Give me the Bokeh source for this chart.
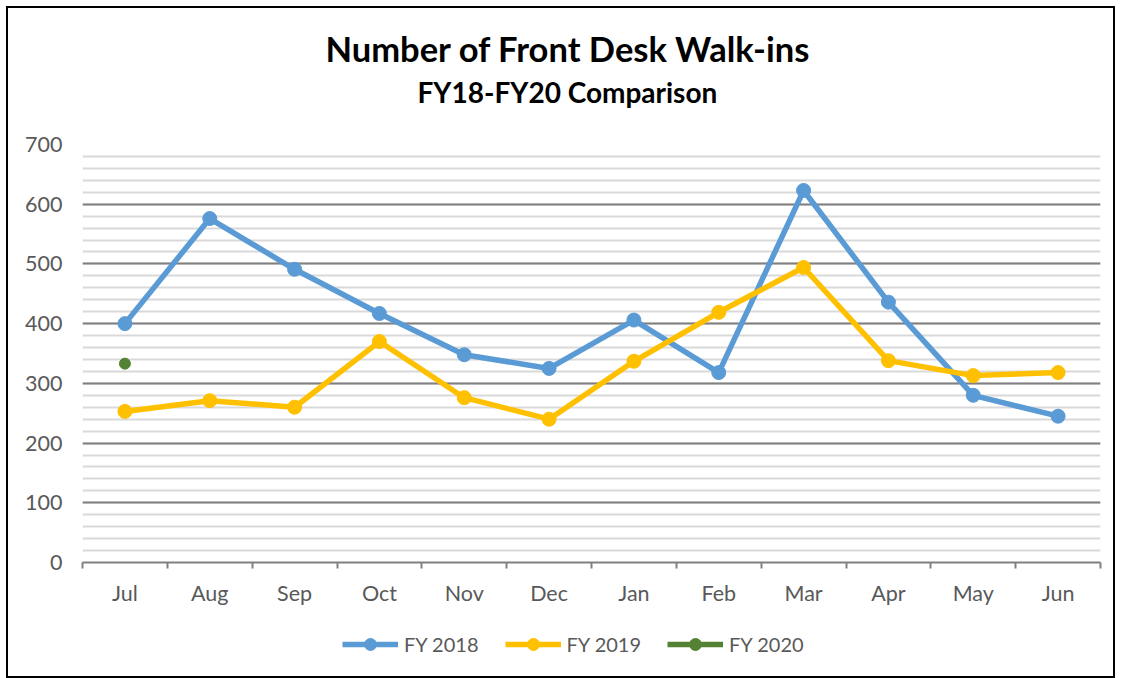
from bokeh.plotting import figure
from bokeh.layouts import column
from bokeh.models import (Title, Legend, LegendItem, FixedTicker, SingleIntervalTicker,
                          Range1d, ColumnDataSource)
from bokeh.embed import file_html
from bokeh.resources import INLINE

months = ["Jul", "Aug", "Sep", "Oct", "Nov", "Dec", "Jan", "Feb", "Mar", "Apr", "May", "Jun"]
fy2018 = [400, 576, 491, 417, 348, 325, 406, 318, 623, 436, 280, 245]
fy2019 = [253, 271, 260, 370, 276, 240, 337, 419, 494, 338, 313, 318]
fy2020 = [333]
series_names = ["FY 2018", "FY 2019", "FY 2020"]

FONT = "Lato"
GRAY_TXT = "#595959"
BLUE = "#5B9BD5"
GOLD = "#FFC000"
GREEN = "#548235"

xpos = [i + 0.5 for i in range(len(months))]

p = figure(width=1105, height=614, output_backend="svg", toolbar_location=None,
           x_range=Range1d(0, len(months)), y_range=Range1d(0, 700),
           min_border_left=74, min_border_right=13, min_border_top=136, min_border_bottom=60)
p.outline_line_color = None
p.background_fill_color = "white"
p.border_fill_color = "white"

# titles (first added is nearest the plot)
spacer = Title(text=" ", text_font_size="1px", standoff=30)
sub = Title(text="FY18-FY20 Comparison", align="left", text_font=FONT,
            text_font_style="bold", text_font_size="28px", text_color="black",
            standoff=6, offset=335)
main = Title(text="Number of Front Desk Walk-ins", align="left", text_font=FONT,
             text_font_style="bold", text_font_size="34.5px", text_color="black",
             standoff=2, offset=243)
p.add_layout(spacer, "above")
p.add_layout(sub, "above")
p.add_layout(main, "above")

# y axis & grid
p.yaxis.ticker = SingleIntervalTicker(interval=100, num_minor_ticks=5)
p.yaxis.axis_line_color = None
p.yaxis.major_tick_line_color = None
p.yaxis.minor_tick_line_color = None
p.yaxis.major_label_text_font = FONT
p.yaxis.major_label_text_font_size = "21.5px"
p.yaxis.major_label_text_color = GRAY_TXT
p.yaxis.major_label_standoff = 14
p.ygrid.grid_line_color = "#808080"
p.ygrid.grid_line_width = 2
p.ygrid.minor_grid_line_color = "#D9D9D9"
p.ygrid.minor_grid_line_width = 2
p.xgrid.grid_line_color = None

# x axis
p.xaxis.ticker = FixedTicker(ticks=xpos, minor_ticks=list(range(len(months) + 1)))
p.xaxis.major_label_overrides = {x: m for x, m in zip(xpos, months)}
p.xaxis.major_tick_line_color = None
p.xaxis.minor_tick_line_color = "#808080"
p.xaxis.minor_tick_line_width = 2
p.xaxis.minor_tick_out = 6
p.xaxis.minor_tick_in = 0
p.xaxis.axis_line_color = "#808080"
p.xaxis.axis_line_width = 2
p.xaxis.major_label_text_font = FONT
p.xaxis.major_label_text_font_size = "21.5px"
p.xaxis.major_label_text_color = GRAY_TXT
p.xaxis.major_label_standoff = 11

s18 = ColumnDataSource(dict(x=xpos, y=fy2018))
s19 = ColumnDataSource(dict(x=xpos, y=fy2019))
s20 = ColumnDataSource(dict(x=xpos[:len(fy2020)], y=fy2020))

p.line("x", "y", source=s18, line_color=BLUE, line_width=5.5)
p.scatter("x", "y", source=s18, size=14, fill_color=BLUE, line_color=BLUE)
p.line("x", "y", source=s19, line_color=GOLD, line_width=5.5)
p.scatter("x", "y", source=s19, size=14, fill_color=GOLD, line_color=GOLD)
p.line("x", "y", source=s20, line_color=GREEN, line_width=5.5)
p.scatter("x", "y", source=s20, size=11, fill_color=GREEN, line_color=GREEN)

# legend strip below the chart (legend-only figure; its proxies hold no drawable data)
lg = figure(width=1105, height=54, output_backend="svg", toolbar_location=None,
            x_axis_location=None, y_axis_location=None,
            x_range=Range1d(0, 1), y_range=Range1d(0, 1),
            min_border_left=0, min_border_right=0, min_border_top=0, min_border_bottom=0)
lg.outline_line_color = None
lg.grid.grid_line_color = None
lg.border_fill_color = "white"

items = []
for name, color, msize in zip(series_names, [BLUE, GOLD, GREEN], [14, 14, 11]):
    proxy = ColumnDataSource(dict(x=[float("nan")], y=[float("nan")]))
    r1 = lg.line("x", "y", source=proxy, line_color=color, line_width=5.5)
    r2 = lg.scatter("x", "y", source=proxy, size=msize, fill_color=color, line_color=color)
    items.append(LegendItem(label=name, renderers=[r1, r2]))

legend = Legend(items=items, orientation="horizontal", location=(260, 17),
                label_text_font=FONT, label_text_font_size="20px", label_text_color=GRAY_TXT,
                glyph_width=56, glyph_height=30, label_standoff=6, spacing=26,
                border_line_color=None, background_fill_alpha=0, padding=4, margin=0)
lg.add_layout(legend, "center")

layout = column(p, lg, spacing=0, styles={"border": "2px solid black", "margin": "6px"})
open("out.html", "w").write(file_html(layout, INLINE))
